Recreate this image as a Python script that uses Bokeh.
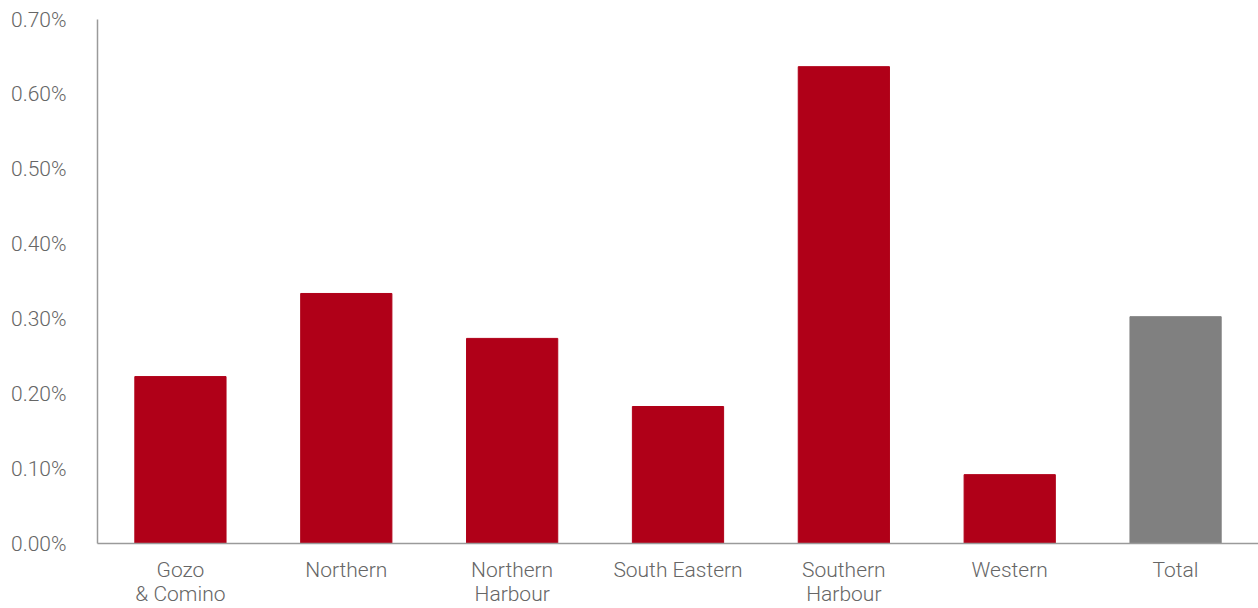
from bokeh.plotting import figure
from bokeh.models import Range1d, PrintfTickFormatter, FixedTicker, ColumnDataSource, LinearAxis
from bokeh.embed import file_html
from bokeh.resources import INLINE

categories = ["Gozo & Comino", "Northern", "Northern Harbour", "South Eastern",
              "Southern Harbour", "Western", "Total"]
label_line1 = ["Gozo", "Northern", "Northern", "South Eastern", "Southern", "Western", "Total"]
label_line2 = ["& Comino", " ", "Harbour", " ", "Harbour", " ", " "]
values = [0.223, 0.334, 0.274, 0.183, 0.637, 0.092, 0.303]
colors = ["#B00018"] * 6 + ["#808080"]
y_ticks = [0.0, 0.1, 0.2, 0.3, 0.4, 0.5, 0.6, 0.7]

positions = list(range(len(categories)))
src = ColumnDataSource(dict(x=positions, name=categories, top=values, color=colors))

p = figure(width=1258, height=608, x_range=Range1d(-0.5, len(categories) - 0.5),
           y_range=Range1d(0, 0.7), output_backend="svg", toolbar_location=None,
           min_border_left=97, min_border_right=0, min_border_top=19, min_border_bottom=0)
p.vbar(x="x", top="top", width=0.55, color="color", source=src)

p.outline_line_color = None
p.xgrid.visible = False
p.ygrid.visible = False

font = "Roboto Light"
text_color = "#666666"

second = LinearAxis()
p.add_layout(second, "below")

for ax in (p.xaxis[0], p.yaxis[0], second):
    ax.axis_line_color = "#9a9a9a"
    ax.axis_line_width = 1.5
    ax.major_tick_line_color = None
    ax.minor_tick_line_color = None
    ax.major_tick_out = 0
    ax.major_tick_in = 0
    ax.major_label_text_font = font
    ax.major_label_text_font_size = "21px"
    ax.major_label_text_color = text_color

p.yaxis[0].ticker = FixedTicker(ticks=y_ticks)
p.yaxis[0].formatter = PrintfTickFormatter(format="%.2f%%")
p.yaxis[0].major_label_standoff = 31

p.xaxis[0].ticker = FixedTicker(ticks=positions)
p.xaxis[0].major_label_overrides = dict(zip(positions, label_line1))
p.xaxis[0].major_label_standoff = 14
second.ticker = FixedTicker(ticks=positions)
second.axis_line_color = None
second.major_label_overrides = dict(zip(positions, label_line2))
second.major_label_standoff = -3

open("out.html", "w").write(file_html(p, INLINE))
